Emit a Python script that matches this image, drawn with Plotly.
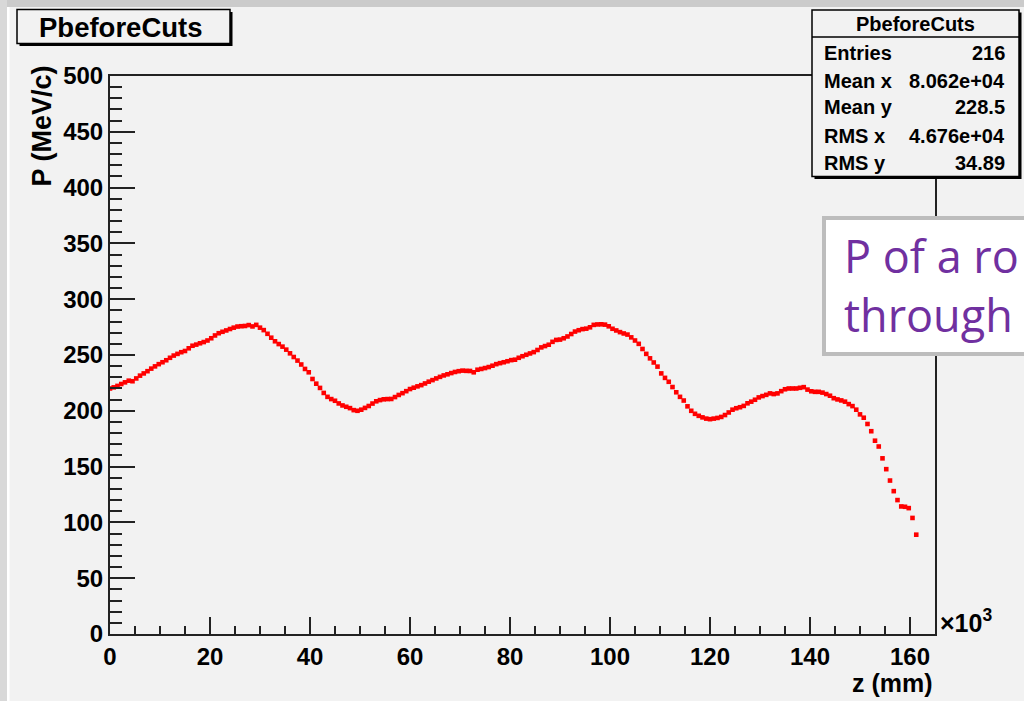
import plotly.graph_objects as go

# ---------------- data (z in units of 10^3 mm, P in MeV/c) ----------------
z_k = [0.0, 0.75, 1.5, 2.25, 3.0, 3.75, 4.5, 5.25, 6.0, 6.75, 7.5, 8.25, 9.0, 9.75, 10.5, 11.25,
       12.0, 12.75, 13.5, 14.25, 15.0, 15.75, 16.5, 17.25, 18.0, 18.75, 19.5, 20.25, 21.0, 21.75,
       22.5, 23.25, 24.0, 24.75, 25.5, 26.25, 27.0, 27.75, 28.5, 29.25, 30.0, 30.75, 31.5, 32.25,
       33.0, 33.75, 34.5, 35.25, 36.0, 36.75, 37.5, 38.25, 39.0, 39.75, 40.5, 41.25, 42.0, 42.75,
       43.5, 44.25, 45.0, 45.75, 46.5, 47.25, 48.0, 48.75, 49.5, 50.25, 51.0, 51.75, 52.5, 53.25,
       54.0, 54.75, 55.5, 56.25, 57.0, 57.75, 58.5, 59.25, 60.0, 60.75, 61.5, 62.25, 63.0, 63.75,
       64.5, 65.25, 66.0, 66.75, 67.5, 68.25, 69.0, 69.75, 70.5, 71.25, 72.0, 72.75, 73.5, 74.25,
       75.0, 75.75, 76.5, 77.25, 78.0, 78.75, 79.5, 80.25, 81.0, 81.75, 82.5, 83.25, 84.0, 84.75,
       85.5, 86.25, 87.0, 87.75, 88.5, 89.25, 90.0, 90.75, 91.5, 92.25, 93.0, 93.75, 94.5, 95.25,
       96.0, 96.75, 97.5, 98.25, 99.0, 99.75, 100.5, 101.25, 102.0, 102.75, 103.5, 104.25, 105.0,
       105.75, 106.5, 107.25, 108.0, 108.75, 109.5, 110.25, 111.0, 111.75, 112.5, 113.25, 114.0,
       114.75, 115.5, 116.25, 117.0, 117.75, 118.5, 119.25, 120.0, 120.75, 121.5, 122.25, 123.0,
       123.75, 124.5, 125.25, 126.0, 126.75, 127.5, 128.25, 129.0, 129.75, 130.5, 131.25, 132.0,
       132.75, 133.5, 134.25, 135.0, 135.75, 136.5, 137.25, 138.0, 138.75, 139.5, 140.25, 141.0,
       141.75, 142.5, 143.25, 144.0, 144.75, 145.5, 146.25, 147.0, 147.75, 148.5, 149.25, 150.0,
       150.75, 151.5, 152.25, 153.0, 153.75, 154.5, 155.25, 156.0, 156.75, 157.5, 158.25, 159.0,
       159.75, 160.5, 161.25]

p_mev = [220, 221, 222.3, 224, 225.5, 227, 226.5, 229, 231.5, 233.5, 235.5, 237.8, 239.8, 241.8,
         243.5, 245.3, 247.5, 249.5, 251, 252.5, 253.6, 256, 258.3, 259.3, 260.5, 261.6, 263, 265,
         267.5, 269.5, 270.8, 272, 273.3, 274.5, 275.5, 275.8, 276, 276.8, 275.6, 277, 274.5, 272.3,
         269, 265.5, 262.3, 259.8, 257.5, 254.8, 251.5, 248.2, 245, 241.5, 237.5, 234.5, 228.5,
         224.3, 220.5, 216, 212.5, 210.5, 209, 206.6, 204.8, 203.6, 202.4, 200.6, 200, 201, 202.6,
         204.3, 206.5, 208.5, 209.6, 210.3, 210.5, 210.6, 212.3, 214.2, 215.8, 217.6, 219.5, 220.7,
         221.9, 223, 224.5, 226.1, 227.5, 229, 230.4, 231.7, 232.7, 233.8, 234.8, 235.5, 236, 235.8,
         235.7, 234.5, 236.8, 237.5, 238.3, 239.2, 240.4, 241.8, 242.7, 243.5, 244.4, 245.4, 245.8,
         247.5, 248.9, 250.2, 251.4, 252.6, 254.5, 256.8, 258, 259.2, 261.8, 263.5, 263.8, 265,
         266.6, 268.8, 271, 272.2, 273.2, 273.6, 274.8, 277, 277.4, 277.5, 277.2, 275.7, 273.5, 272,
         270.5, 269.3, 268.3, 265.8, 263, 260, 255.4, 251, 247, 243.3, 239.6, 233.5, 229.5, 226,
         221.3, 216.6, 212.5, 209.2, 204, 200, 197.3, 195.5, 194.1, 193, 192.5, 193, 193.6, 194.5,
         196.2, 198.5, 201, 202.3, 203.2, 204.4, 206.7, 208.2, 209.9, 212, 213.2, 214.3, 215.6, 215,
         215.6, 217.6, 219.3, 220, 220, 220, 220.6, 221.2, 219, 217.5, 217, 217, 216.3, 215, 213.5,
         211.3, 210.2, 209.3, 208.2, 206, 204.2, 201, 196.8, 193.8, 188.2, 181.7, 173.2, 168, 157.4,
         147.7, 137.5, 128, 120, 114.3, 114, 112.8, 104, 89]

x_ticks = [0, 20, 40, 60, 80, 100, 120, 140, 160]
y_ticks = [0, 50, 100, 150, 200, 250, 300, 350, 400, 450, 500]

hist_name = "PbeforeCuts"
stat_labels = ["Entries", "Mean x", "Mean y", "RMS x", "RMS y"]
stat_values = ["216", "8.062e+04", "228.5", "4.676e+04", "34.89"]
overlay_lines = ["P of a ro", "through"]

# ---------------- layout geometry (pixels) ----------------
W, H = 1024, 701
L, R, T, B = 110, 935, 76, 634


def fx(x):
    return (x - L) / (R - L)


def fy(y):
    return (B - y) / (B - T)


FONT = "Liberation Sans, Arial, Helvetica, sans-serif"
AX = "#222222"
BG = "#f2f2f2"

fig = go.Figure()
fig.add_trace(go.Scatter(
    x=z_k, y=p_mev, mode="markers",
    marker=dict(symbol="square", size=4.6, color="#ff0000", line=dict(width=0)),
    hoverinfo="x+y", showlegend=False,
))

axis_common = dict(
    showgrid=False, zeroline=False, showline=True, mirror=True,
    linecolor=AX, linewidth=2, ticks="inside", tickcolor=AX, tickwidth=1.5,
    tickfont=dict(family=FONT, size=24, color="#000000", weight=700),
)

fig.update_xaxes(
    range=[0, 165], tickmode="array", tickvals=x_ticks,
    ticktext=[str(v) for v in x_ticks], ticklen=17,
    minor=dict(dtick=5, ticklen=8, ticks="inside", tickcolor=AX, tickwidth=1.5),
    **axis_common,
)
fig.update_yaxes(
    range=[0, 500], tickmode="array", tickvals=y_ticks,
    ticktext=[str(v) for v in y_ticks], ticklen=25,
    minor=dict(dtick=10, ticklen=12, ticks="inside", tickcolor=AX, tickwidth=1.5),
    **axis_common,
)

shapes = []
# outer slide frame
shapes.append(dict(type="rect", xref="paper", yref="paper", x0=fx(0), x1=fx(W), y0=fy(0), y1=fy(7),
                   fillcolor="#cbcbcb", line=dict(width=0), layer="below"))
shapes.append(dict(type="rect", xref="paper", yref="paper", x0=fx(0), x1=fx(7), y0=fy(0), y1=fy(H),
                   fillcolor="#d8d8d8", line=dict(width=0), layer="below"))
shapes.append(dict(type="rect", xref="paper", yref="paper", x0=fx(7), x1=fx(9.5), y0=fy(7), y1=fy(H),
                   fillcolor="#ffffff", line=dict(width=0), layer="below"))

# title box with shadow
shapes.append(dict(type="rect", xref="paper", yref="paper", x0=fx(19.5), x1=fx(232.5), y0=fy(12), y1=fy(46),
                   fillcolor="#000000", line=dict(width=0)))
shapes.append(dict(type="rect", xref="paper", yref="paper", x0=fx(17), x1=fx(230), y0=fy(9.5), y1=fy(43.5),
                   fillcolor=BG, line=dict(color="#000000", width=1.5)))

# stats box with shadow
shapes.append(dict(type="rect", xref="paper", yref="paper", x0=fx(814.5), x1=fx(1021.5), y0=fy(12.5), y1=fy(179),
                   fillcolor="#000000", line=dict(width=0)))
shapes.append(dict(type="rect", xref="paper", yref="paper", x0=fx(812), x1=fx(1019), y0=fy(10), y1=fy(176.5),
                   fillcolor=BG, line=dict(color="#000000", width=1.5)))
shapes.append(dict(type="line", xref="paper", yref="paper", x0=fx(812), x1=fx(1019), y0=fy(37), y1=fy(37),
                   line=dict(color="#000000", width=1.5)))

# overlay text box
shapes.append(dict(type="rect", xref="paper", yref="paper", x0=fx(824), x1=fx(1040), y0=fy(218), y1=fy(354),
                   fillcolor="#ffffff", line=dict(color="#bdbdbd", width=4)))

fig.update_layout(shapes=shapes)

ann = []
ann.append(dict(text=hist_name, x=fx(121), y=fy(27), xref="paper", yref="paper", showarrow=False,
                xanchor="center", yanchor="middle",
                font=dict(family=FONT, size=27.5, color="#000000", weight=700)))
ann.append(dict(text=hist_name, x=fx(915.5), y=fy(24), xref="paper", yref="paper", showarrow=False,
                xanchor="center", yanchor="middle",
                font=dict(family=FONT, size=20, color="#000000", weight=700)))
row_y = [53, 80.5, 107.5, 136, 163]
for lab, val, ry in zip(stat_labels, stat_values, row_y):
    ann.append(dict(text=lab, x=fx(822), y=fy(ry), xref="paper", yref="paper", showarrow=False,
                    xanchor="left", yanchor="middle",
                    font=dict(family=FONT, size=20, color="#000000", weight=700)))
    ann.append(dict(text=val, x=fx(1007), y=fy(ry), xref="paper", yref="paper", showarrow=False,
                    xanchor="right", yanchor="middle",
                    font=dict(family=FONT, size=20, color="#000000", weight=700)))

# axis titles
ann.append(dict(text="P (MeV/c)", x=fx(41), y=fy(64), xref="paper", yref="paper", showarrow=False,
                textangle=-90, xanchor="center", yanchor="top",
                font=dict(family=FONT, size=27, color="#000000", weight=700)))
ann.append(dict(text="z (mm)", x=fx(935), y=fy(683), xref="paper", yref="paper", showarrow=False,
                xanchor="right", yanchor="middle",
                font=dict(family=FONT, size=25, color="#000000", weight=700)))
ann.append(dict(text="\u00d710<sup>3</sup>", x=fx(938), y=fy(639), xref="paper", yref="paper", showarrow=False,
                xanchor="left", yanchor="bottom",
                font=dict(family=FONT, size=25, color="#000000", weight=700)))

# overlay purple text (two lines in one block)
ann.append(dict(text="<br>".join(overlay_lines), x=fx(842), y=fy(285), xref="paper", yref="paper",
                showarrow=False, xanchor="left", yanchor="middle", align="left",
                font=dict(family="Open Sans, Noto Sans, sans-serif", size=45, color="#7030a0", weight=400)))

fig.update_layout(
    annotations=ann,
    width=W, height=H,
    margin=dict(l=L, r=W - R, t=T, b=H - B, pad=0),
    paper_bgcolor=BG, plot_bgcolor=BG,
    showlegend=False,
)

fig.write_html("out.html", include_plotlyjs=True, config={"displayModeBar": False})
